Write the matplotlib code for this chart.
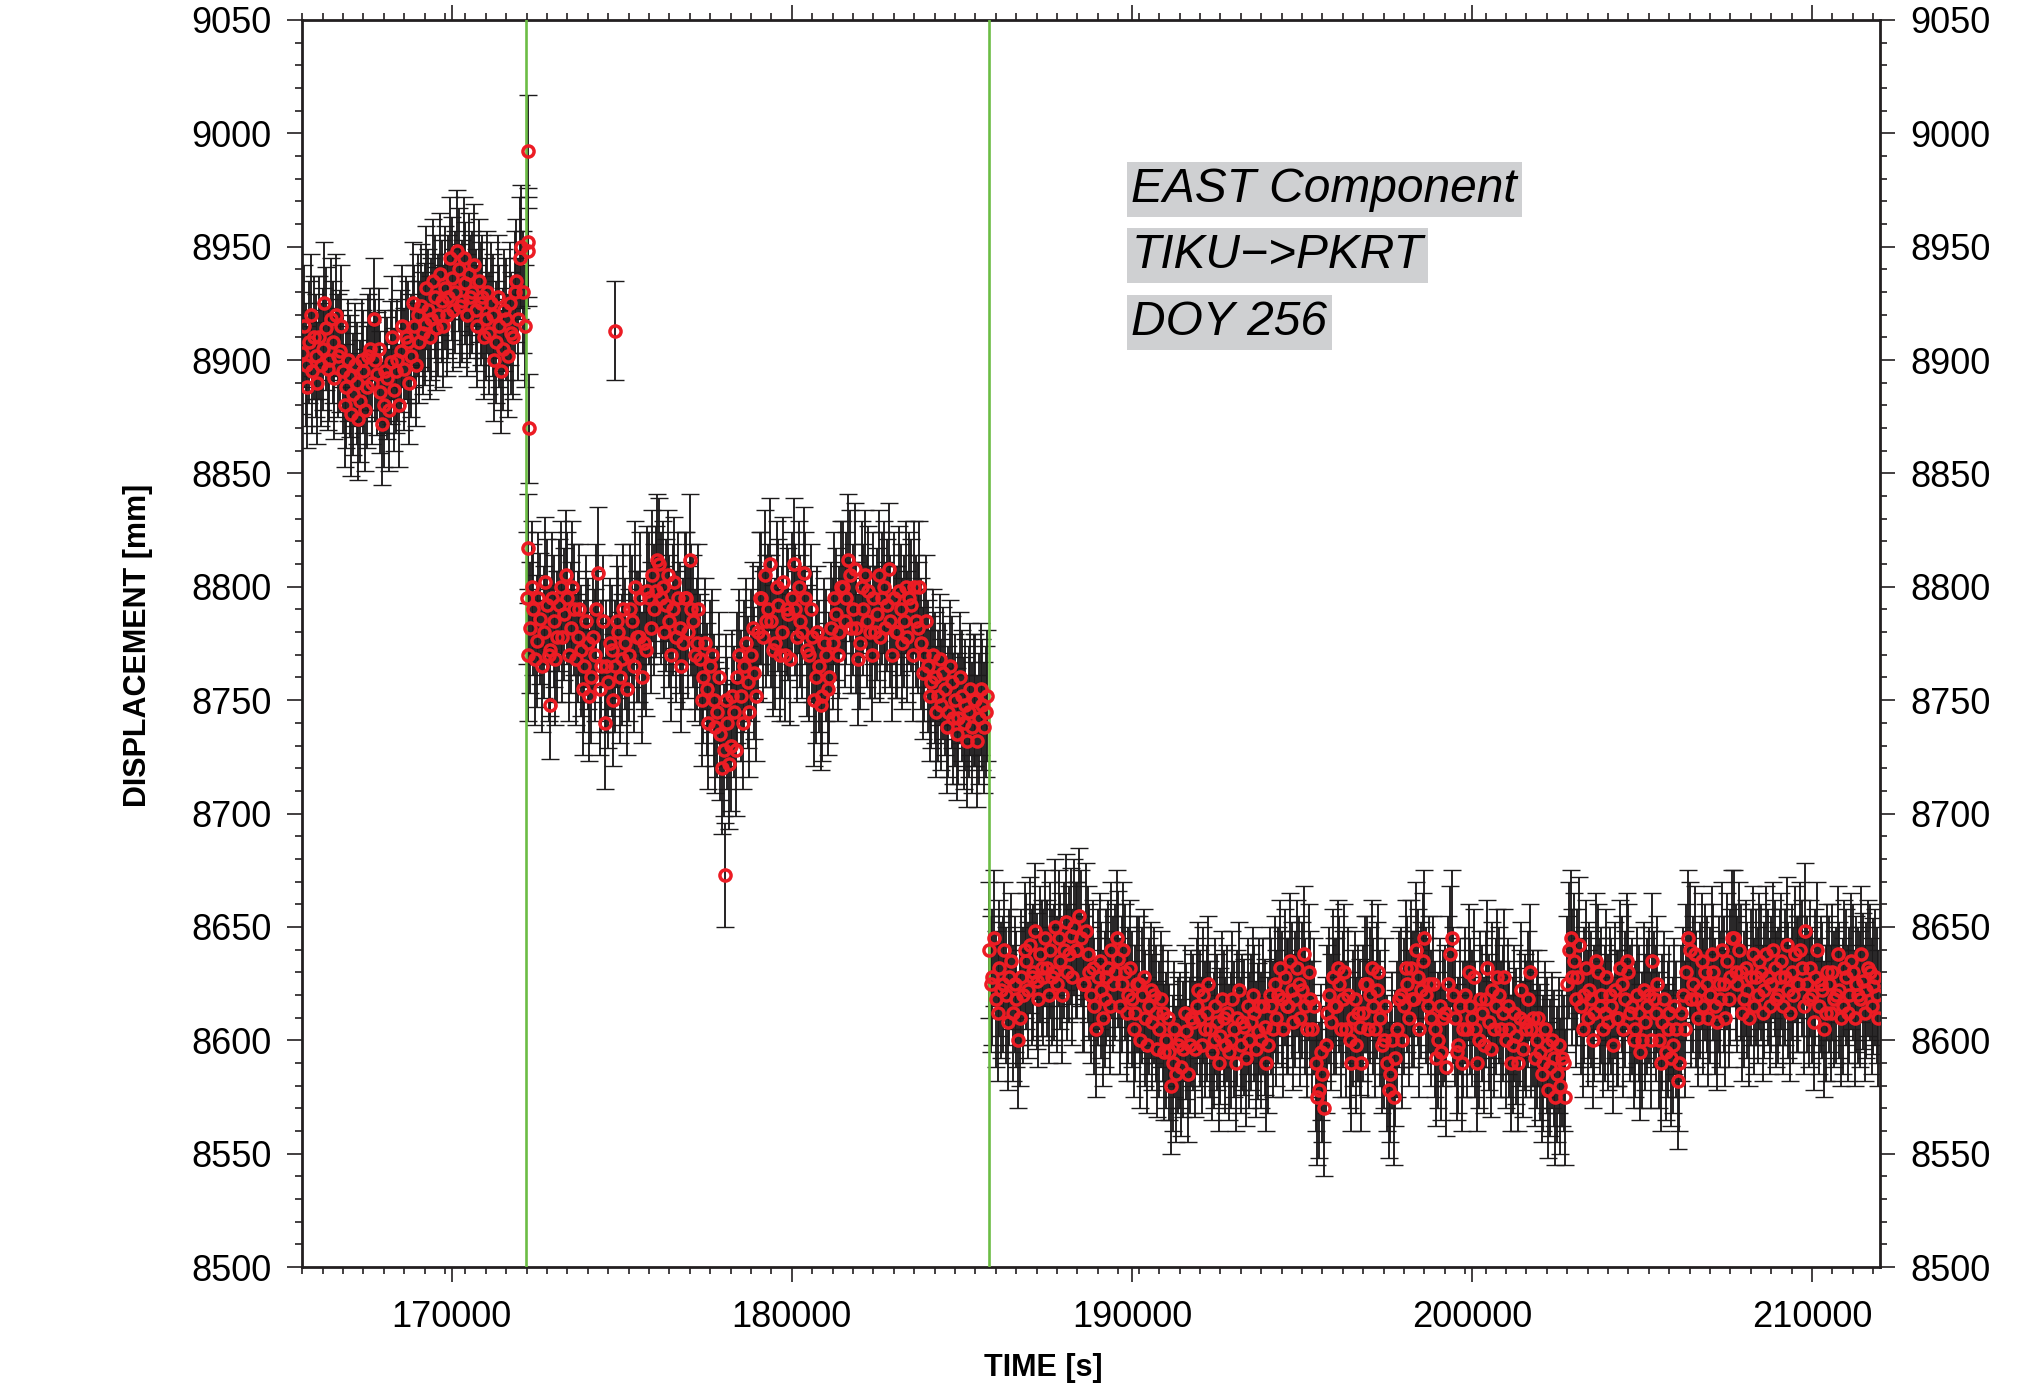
import numpy as np
import matplotlib
matplotlib.use("Agg")
from matplotlib import pyplot as plt
from matplotlib.ticker import MultipleLocator

plt.rcParams['font.family'] = ['Liberation Sans', 'DejaVu Sans']

# 50 s epochs, stored as the even (xx00 s) and odd (xx50 s) samples of
# three blocks split by the two receiver events
seg1_start = 165600
seg1_even = [
    8903, 8898, 8908, 8895, 8902, 8910, 8905, 8914, 8900, 8908,
    8920, 8904, 8895, 8888, 8893, 8885, 8890, 8882, 8895, 8888,
    8905, 8918, 8894, 8886, 8880, 8892, 8899, 8887, 8900, 8904,
    8896, 8908, 8902, 8915, 8920, 8924, 8916, 8922, 8918, 8928,
    8920, 8926, 8932, 8928, 8936, 8930, 8940, 8926, 8934, 8938,
    8930, 8922, 8935, 8928, 8918, 8912, 8920, 8908, 8915, 8905,
    8918, 8925, 8910, 8935, 8945, 8930,
]
seg1_odd = [
    8915, 8888, 8920, 8910, 8890, 8898, 8925, 8896, 8918, 8892,
    8902, 8915, 8880, 8900, 8876, 8898, 8874, 8900, 8878, 8902,
    8890, 8900, 8905, 8872, 8895, 8878, 8910, 8895, 8880, 8915,
    8910, 8890, 8925, 8898, 8908, 8912, 8932, 8910, 8935, 8914,
    8938, 8915, 8920, 8945, 8922, 8948, 8924, 8945, 8920, 8928,
    8942, 8915, 8925, 8910, 8930, 8925, 8900, 8928, 8895, 8922,
    8902, 8912, 8930, 8918, 8950, 8915,
]

seg2_start = 172200
seg2_even = [
    8795, 8782, 8790, 8776, 8786, 8780, 8792, 8772, 8785, 8778,
    8800, 8788, 8795, 8782, 8790, 8778, 8772, 8765, 8775, 8760,
    8770, 8806, 8765, 8740, 8758, 8772, 8765, 8780, 8768, 8775,
    8770, 8785, 8800, 8778, 8760, 8772, 8795, 8805, 8798, 8810,
    8800, 8792, 8785, 8790, 8778, 8782, 8775, 8795, 8812, 8785,
    8775, 8768, 8760, 8755, 8765, 8750, 8745, 8735, 8728, 8740,
    8730, 8745, 8760, 8752, 8765, 8758, 8770, 8762, 8780, 8795,
    8805, 8790, 8785, 8775, 8792, 8780, 8770, 8788, 8795, 8790,
    8800, 8780, 8795, 8770, 8778, 8760, 8765, 8752, 8770, 8760,
    8775, 8788, 8780, 8800, 8795, 8805, 8790, 8782, 8775, 8790,
    8785, 8780, 8795, 8788, 8778, 8800, 8792, 8785, 8795, 8780,
    8790, 8785, 8778, 8792, 8800, 8782, 8775, 8770, 8765, 8758,
    8760, 8752, 8748, 8755, 8745, 8758, 8750, 8742, 8752, 8748,
    8745, 8738, 8750, 8742, 8748, 8745,
]
seg2_odd = [
    8770, 8800, 8768, 8795, 8765, 8802, 8770, 8795, 8768, 8792,
    8778, 8805, 8770, 8800, 8768, 8790, 8755, 8785, 8752, 8778,
    8790, 8755, 8785, 8765, 8775, 8750, 8785, 8760, 8790, 8755,
    8790, 8765, 8778, 8795, 8775, 8798, 8782, 8790, 8812, 8795,
    8780, 8805, 8770, 8802, 8795, 8765, 8795, 8780, 8790, 8770,
    8790, 8750, 8775, 8740, 8770, 8738, 8760, 8720, 8750, 8722,
    8752, 8728, 8770, 8740, 8775, 8745, 8782, 8752, 8795, 8778,
    8785, 8810, 8772, 8800, 8770, 8802, 8790, 8768, 8810, 8778,
    8785, 8806, 8772, 8790, 8750, 8780, 8748, 8775, 8755, 8782,
    8795, 8770, 8800, 8785, 8812, 8782, 8808, 8768, 8800, 8805,
    8798, 8770, 8780, 8805, 8795, 8782, 8808, 8770, 8780, 8798,
    8775, 8800, 8795, 8770, 8785, 8800, 8762, 8785, 8752, 8770,
    8745, 8768, 8762, 8738, 8765, 8742, 8735, 8760, 8740, 8732,
    8755, 8750, 8732, 8755, 8738, 8752,
]

seg3_start = 185800
seg3_even = [
    8640, 8628, 8618, 8632, 8625, 8620, 8628, 8612, 8618, 8610,
    8620, 8635, 8642, 8630, 8626, 8638, 8628, 8632, 8640, 8630,
    8625, 8635, 8640, 8630, 8646, 8650, 8640, 8645, 8625, 8638,
    8620, 8615, 8628, 8622, 8618, 8632, 8640, 8630, 8636, 8625,
    8630, 8620, 8618, 8612, 8625, 8620, 8610, 8615, 8608, 8612,
    8605, 8612, 8600, 8595, 8590, 8585, 8600, 8596, 8604, 8598,
    8608, 8615, 8610, 8620, 8612, 8605, 8600, 8608, 8602, 8610,
    8612, 8600, 8605, 8610, 8598, 8606, 8615, 8608, 8612, 8604,
    8600, 8606, 8598, 8615, 8625, 8620, 8618, 8628, 8615, 8622,
    8618, 8625, 8622, 8615, 8630, 8605, 8590, 8578, 8585, 8598,
    8620, 8628, 8615, 8625, 8618, 8605, 8600, 8610, 8598, 8606,
    8612, 8625, 8620, 8615, 8622, 8610, 8600, 8590, 8585, 8575,
    8605, 8620, 8615, 8625, 8632, 8618, 8628, 8622, 8645, 8615,
    8610, 8605, 8600, 8595, 8612, 8625, 8645, 8610, 8598, 8590,
    8620, 8630, 8610, 8605, 8600, 8612, 8618, 8608, 8622, 8615,
    8620, 8612, 8600, 8605, 8598, 8602, 8610, 8596, 8605, 8630,
    8610, 8600, 8595, 8590, 8598, 8588, 8592, 8585, 8580, 8590,
    8625, 8645, 8635, 8628, 8615, 8620, 8610, 8618, 8612, 8630,
    8620, 8612, 8608, 8615, 8622, 8610, 8625, 8618, 8630, 8615,
    8605, 8612, 8600, 8608, 8620, 8635, 8612, 8600, 8608, 8595,
    8612, 8598, 8605, 8590, 8620, 8630, 8640, 8625, 8618, 8622,
    8615, 8625, 8620, 8630, 8608, 8618, 8625, 8635, 8628, 8645,
    8625, 8630, 8618, 8622, 8628, 8615, 8620, 8630, 8622, 8628,
    8625, 8632, 8620, 8635, 8628, 8622, 8630, 8638, 8625, 8632,
    8648, 8618, 8620, 8628, 8615, 8622, 8612, 8625, 8630, 8620,
    8622, 8615, 8628, 8620, 8630, 8625, 8618, 8626, 8622, 8630,
    8624, 8620,
]
seg3_odd = [
    8625, 8645, 8612, 8622, 8640, 8608, 8635, 8625, 8600, 8628,
    8640, 8622, 8628, 8648, 8618, 8632, 8645, 8620, 8628, 8650,
    8645, 8620, 8652, 8638, 8628, 8640, 8655, 8625, 8648, 8630,
    8632, 8605, 8635, 8610, 8628, 8615, 8625, 8645, 8615, 8640,
    8612, 8632, 8605, 8625, 8600, 8628, 8598, 8622, 8620, 8596,
    8618, 8595, 8610, 8580, 8605, 8598, 8588, 8612, 8585, 8610,
    8596, 8622, 8598, 8605, 8625, 8595, 8615, 8590, 8618, 8598,
    8595, 8618, 8590, 8622, 8608, 8592, 8600, 8620, 8596, 8615,
    8615, 8590, 8620, 8605, 8610, 8632, 8605, 8615, 8635, 8608,
    8632, 8610, 8638, 8605, 8618, 8615, 8575, 8595, 8570, 8612,
    8608, 8615, 8632, 8605, 8630, 8620, 8590, 8618, 8612, 8590,
    8625, 8605, 8632, 8605, 8630, 8598, 8615, 8578, 8600, 8592,
    8618, 8600, 8632, 8610, 8618, 8640, 8605, 8635, 8620, 8625,
    8625, 8592, 8615, 8610, 8588, 8638, 8620, 8595, 8615, 8605,
    8605, 8615, 8628, 8590, 8618, 8598, 8632, 8596, 8605, 8628,
    8605, 8628, 8615, 8590, 8612, 8590, 8622, 8608, 8618, 8605,
    8592, 8610, 8585, 8605, 8578, 8600, 8575, 8598, 8592, 8575,
    8640, 8628, 8618, 8642, 8605, 8632, 8622, 8600, 8635, 8615,
    8605, 8628, 8620, 8598, 8610, 8632, 8605, 8635, 8612, 8600,
    8620, 8595, 8622, 8615, 8600, 8618, 8625, 8590, 8618, 8605,
    8592, 8615, 8582, 8612, 8605, 8645, 8618, 8638, 8610, 8635,
    8630, 8610, 8638, 8615, 8625, 8640, 8610, 8618, 8645, 8630,
    8640, 8612, 8632, 8610, 8638, 8628, 8635, 8612, 8638, 8615,
    8640, 8618, 8628, 8615, 8642, 8612, 8620, 8625, 8640, 8615,
    8625, 8632, 8608, 8640, 8625, 8605, 8630, 8612, 8618, 8638,
    8610, 8632, 8612, 8635, 8610, 8620, 8638, 8612, 8632, 8615,
    8628, 8610,
]

# 1-sigma per block [mm]
seg_sigma = [27, 29, 30]

# isolated epochs around the first event and a few spikes
odd_time = [172250, 172250, 172250, 172260, 172250, 172900, 174810, 178040]
odd_disp = [8992, 8952, 8948, 8870, 8817, 8748, 8913, 8673]
odd_sigma = [25, 24, 24, 24, 24, 24, 22, 23]

event_times = [172180, 185785]
labels = ["EAST Component", "TIKU\u2212>PKRT", "DOY 256"]

step = 100
t_all, d_all, e_all = [], [], []
blocks = [(seg1_start, seg1_even, seg1_odd),
          (seg2_start, seg2_even, seg2_odd),
          (seg3_start, seg3_even, seg3_odd)]
for (start, even, odd), sig in zip(blocks, seg_sigma):
    t_even = start + step * np.arange(len(even))
    t_odd = start + step // 2 + step * np.arange(len(odd))
    t = np.concatenate([t_even, t_odd])
    d = np.array(even + odd, dtype=float)
    order = np.argsort(t, kind="stable")
    t_all.append(t[order])
    d_all.append(d[order])
    e_all.append(np.full(len(d), sig, dtype=float))
t_all.append(np.array(odd_time, dtype=float))
d_all.append(np.array(odd_disp, dtype=float))
e_all.append(np.array(odd_sigma, dtype=float))
t_all = np.concatenate(t_all)
d_all = np.concatenate(d_all)
e_all = np.concatenate(e_all)

fig = plt.figure(figsize=(20.44, 13.96), dpi=100)
ax = fig.add_axes([0.1478, 0.0924, 0.7720, 0.8933])

frame_col = "#231f20"
ax.errorbar(t_all, d_all, yerr=e_all, fmt="none", ecolor="#1c1a1b",
            elinewidth=1.35, capsize=6.5, capthick=1.0, zorder=2)
for et in event_times:
    ax.axvline(et, color="#6cbd45", lw=1.9, zorder=3)
ax.plot(t_all, d_all, "o", mfc="none", mec="#ec1c24", ms=8, mew=2.5,
        zorder=4)

ax.set_xlim(165600, 212000)
ax.set_ylim(8500, 9050)

ax.xaxis.set_major_locator(MultipleLocator(10000))
ax.xaxis.set_minor_locator(MultipleLocator(600))
ax.yaxis.set_major_locator(MultipleLocator(50))
ax.yaxis.set_minor_locator(MultipleLocator(10))
ax.tick_params(which="both", direction="out", top=True, right=True,
               labelright=True, color=frame_col, width=1.2,
               labelsize=26)
ax.tick_params(which="major", length=11, pad=11)
ax.tick_params(which="minor", length=5)
ax.tick_params(axis="x", which="major", pad=13)
for s in ax.spines.values():
    s.set_linewidth(2.0)
    s.set_color(frame_col)

fig.text(1043 / 2044, 1 - 1368 / 1396, "TIME [s]", ha="center", va="center",
         fontsize=22, fontweight="bold")
fig.text(138 / 2044, 1 - 645 / 1396, "DISPLACEMENT [mm]", ha="center",
         va="center", rotation=90, fontsize=22, fontweight="bold")

for lab, yb in zip(labels, [0.854, 0.8011, 0.7474]):
    ax.text(0.5255, yb, lab, transform=ax.transAxes, ha="left",
            va="baseline", fontsize=34.5, style="italic", zorder=5,
            bbox=dict(boxstyle="square,pad=0.1", fc="#cfd0d2", ec="none"))

fig.savefig("out.png", dpi=100)
